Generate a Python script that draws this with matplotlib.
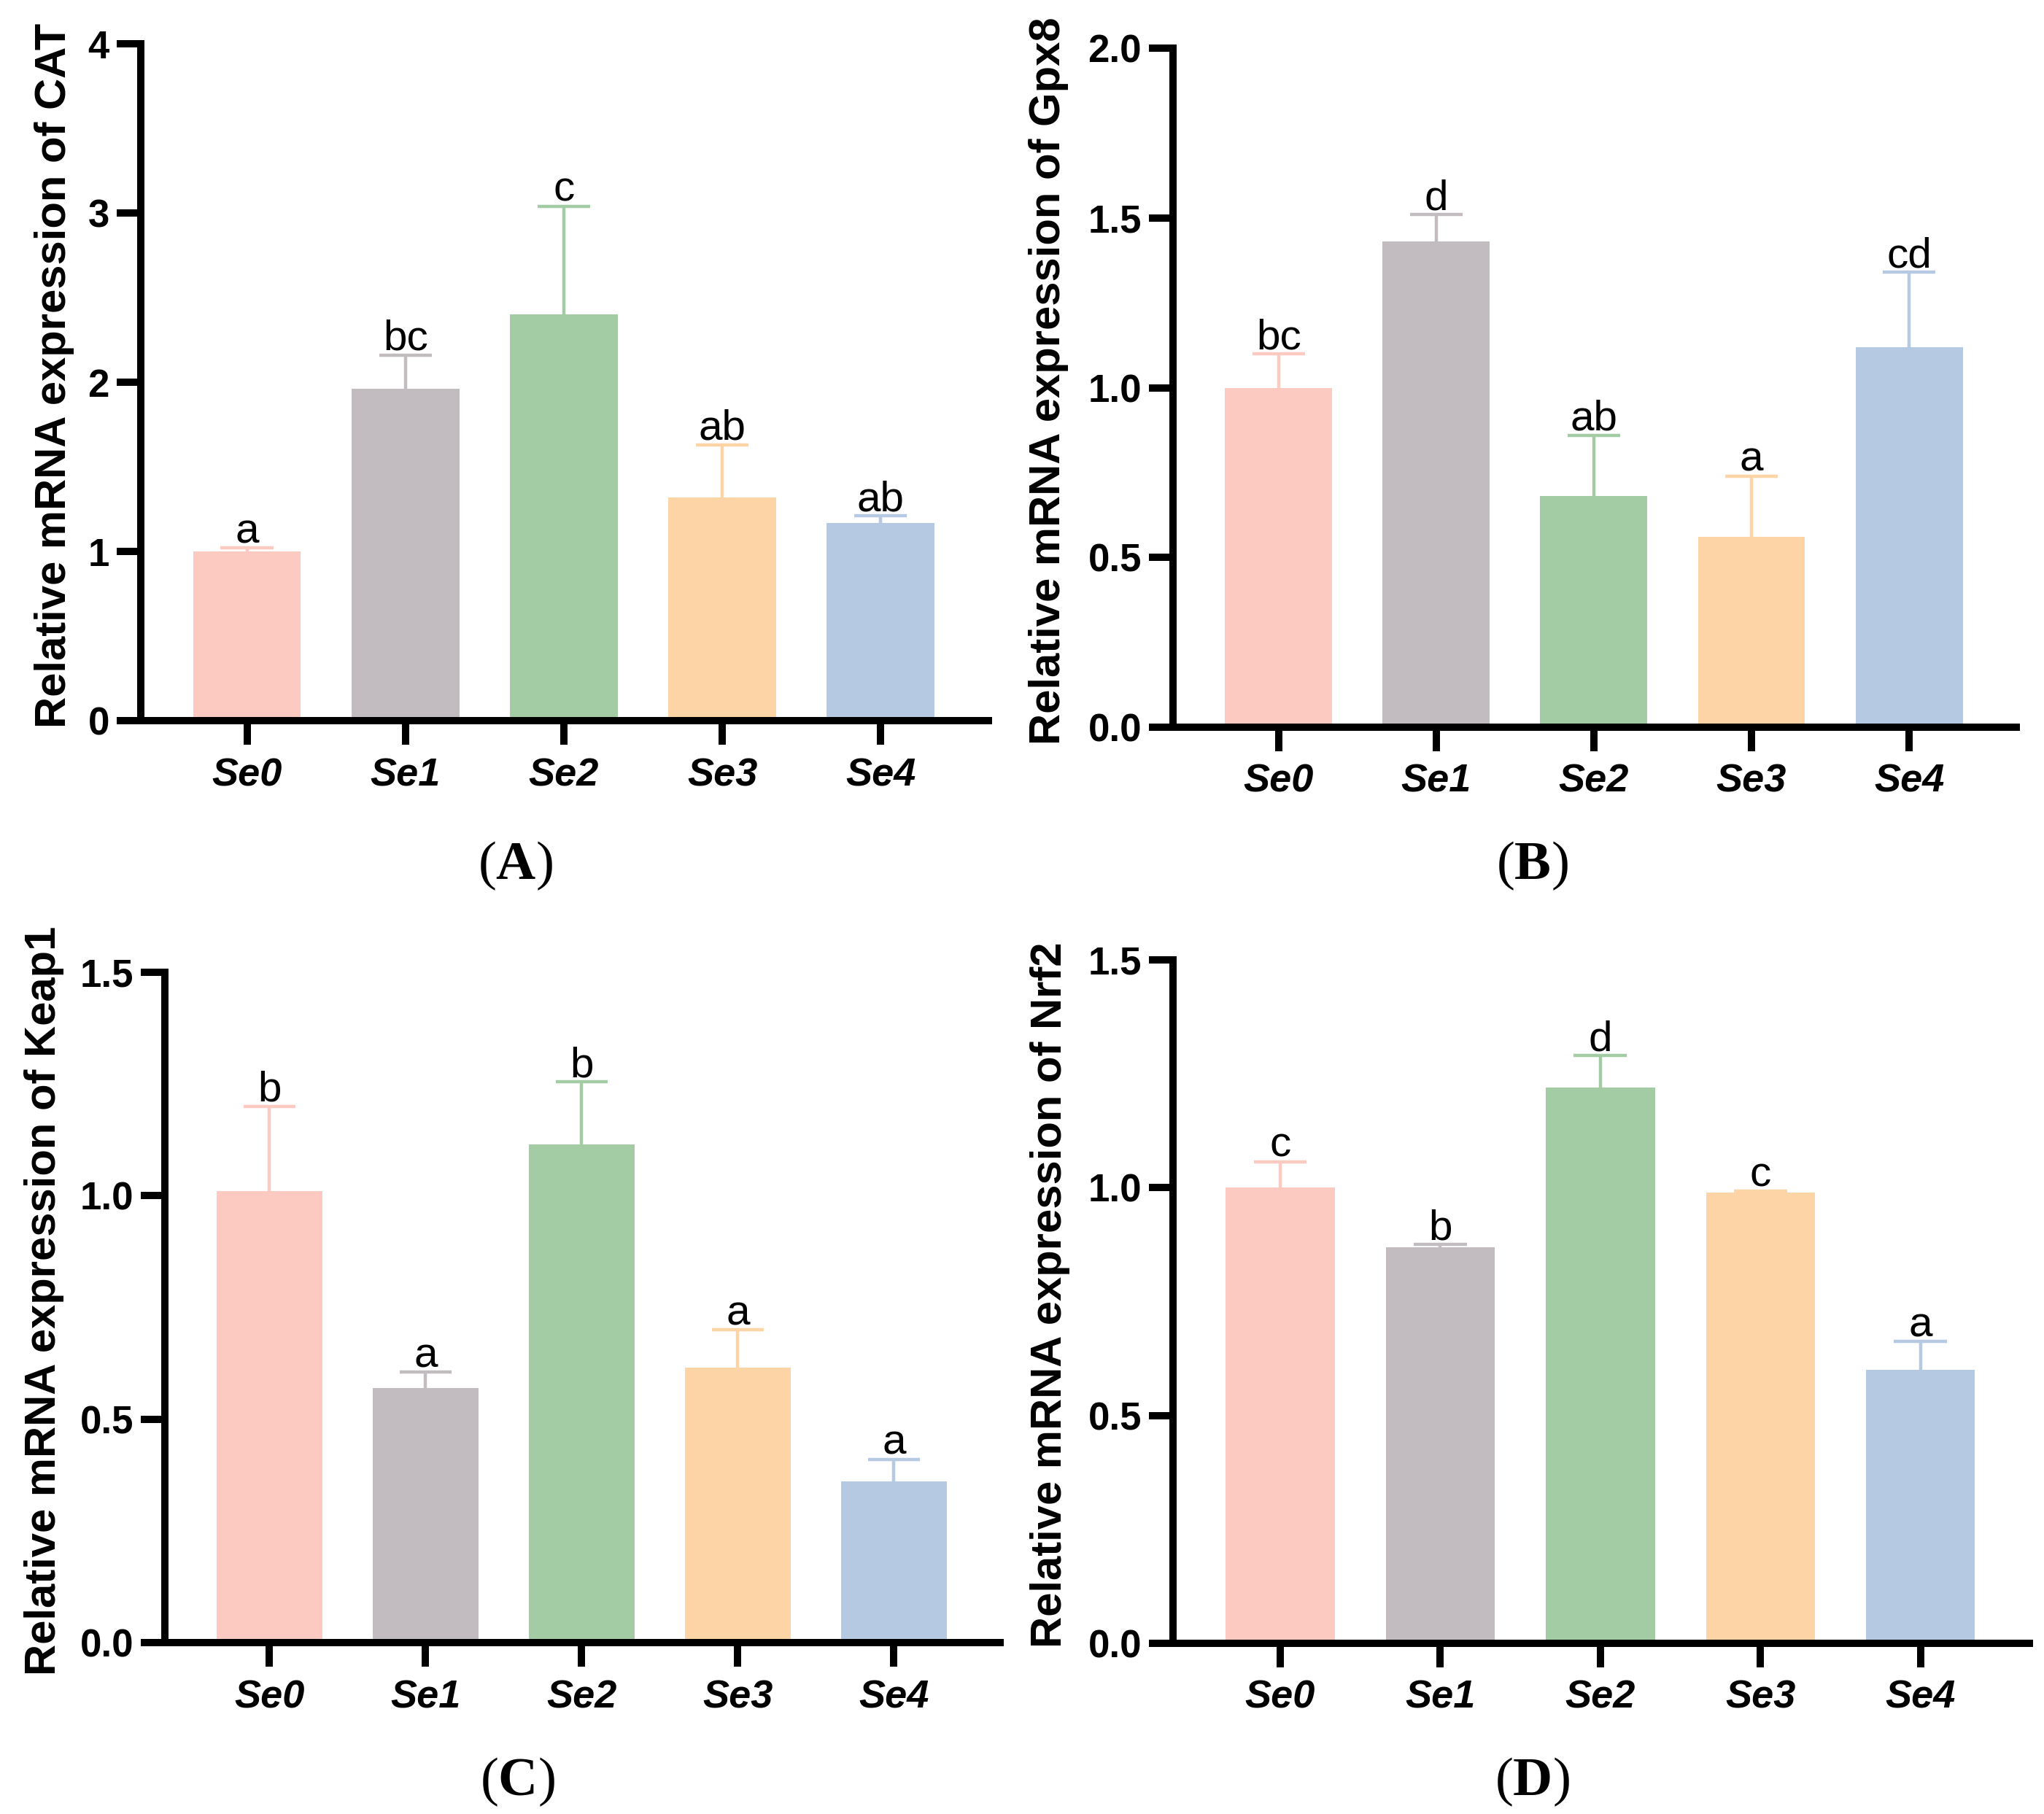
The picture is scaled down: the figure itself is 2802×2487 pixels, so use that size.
import matplotlib
matplotlib.use('Agg')
import numpy as np
import matplotlib.pyplot as plt

plt.rcParams['font.family'] = 'Liberation Sans'
plt.rcParams['mathtext.fontset'] = 'custom'
plt.rcParams['mathtext.rm'] = 'Liberation Serif'
plt.rcParams['mathtext.bf'] = 'Liberation Serif:bold'

# data
groups = ['Se0', 'Se1', 'Se2', 'Se3', 'Se4']
bar_colors = ['#FDCAC2', '#C2BCC0', '#A3CBA4', '#FDD4A6', '#B5C9E2']

cat_mean = [1.00, 1.96, 2.40, 1.32, 1.17]
cat_err = [0.02, 0.20, 0.64, 0.31, 0.04]
cat_letters = ['a', 'bc', 'c', 'ab', 'ab']

gpx8_mean = [1.00, 1.43, 0.68, 0.56, 1.12]
gpx8_err = [0.10, 0.08, 0.18, 0.18, 0.22]
gpx8_letters = ['bc', 'd', 'ab', 'a', 'cd']

keap1_mean = [1.01, 0.57, 1.115, 0.615, 0.36]
keap1_err = [0.19, 0.035, 0.14, 0.085, 0.05]
keap1_letters = ['b', 'a', 'b', 'a', 'a']

nrf2_mean = [1.00, 0.87, 1.22, 0.99, 0.60]
nrf2_err = [0.057, 0.005, 0.07, 0.002, 0.062]
nrf2_letters = ['c', 'b', 'd', 'c', 'a']

W, H = 2802, 2487
DPI = 100
fig = plt.figure(figsize=(W / DPI, H / DPI), dpi=DPI)


def px_axes(left, right, top, bottom):
    # pixel box -> figure fraction
    return [left / W, 1 - bottom / H, (right - left) / W, (bottom - top) / H]


panels = [
    # box (px), gene, means, errs, letters, yticks, ticklabels, label offset px, tag, tag pos
    ((193, 1355, 60, 988), 'CAT', cat_mean, cat_err, cat_letters,
     [0, 1, 2, 3, 4], ['0', '1', '2', '3', '4'], 91, 'A', (706, 1187)),
    ((1608, 2764, 66, 997), 'Gpx8', gpx8_mean, gpx8_err, gpx8_letters,
     [0, 0.5, 1.0, 1.5, 2.0], ['0.0', '0.5', '1.0', '1.5', '2.0'], 143, 'B', (2100, 1187)),
    ((226, 1371, 1333, 2252), 'Keap1', keap1_mean, keap1_err, keap1_letters,
     [0, 0.5, 1.0, 1.5], ['0.0', '0.5', '1.0', '1.5'], 138, 'C', (709, 2443)),
    ((1608, 2782, 1316, 2253), 'Nrf2', nrf2_mean, nrf2_err, nrf2_letters,
     [0, 0.5, 1.0, 1.5], ['0.0', '0.5', '1.0', '1.5'], 141, 'D', (2100, 2443)),
]

x = np.arange(len(groups))
cap_half = 0.166

for box, gene, mean, err, letters, yt, ytl, lab_off, tag, tag_pos in panels:
    ax = fig.add_axes(px_axes(*box))
    ax.bar(x, mean, width=0.68, color=bar_colors, linewidth=0, zorder=2)
    for i in range(len(groups)):
        top = mean[i] + err[i]
        # upper error bar only, same colour as the bar
        ax.vlines(x[i], mean[i], top, color=bar_colors[i], linewidth=3.2, zorder=1)
        ax.hlines(top, x[i] - cap_half, x[i] + cap_half, color=bar_colors[i],
                  linewidth=3.2, zorder=1)
        ax.annotate(letters[i], (x[i], top), xytext=(0, 5),
                    textcoords='offset points', ha='center', va='baseline',
                    fontsize=42)

    ax.set_xlim(-0.67, 4.68)
    ax.set_ylim(0, yt[-1])
    ax.set_yticks(yt)
    ax.set_yticklabels(ytl, fontsize=38, fontweight='bold')
    ax.set_xticks(x)
    ax.set_xticklabels(groups, fontsize=39, fontweight='bold', fontstyle='italic')

    for s in ['top', 'right']:
        ax.spines[s].set_visible(False)
    for s in ['left', 'bottom']:
        ax.spines[s].set_linewidth(7.2)
    ax.tick_params(axis='both', direction='out', length=24, width=7.2)
    ax.tick_params(axis='y', pad=7)
    ax.tick_params(axis='x', pad=12)

    ax.set_ylabel('Relative mRNA expression of ' + gene, fontsize=43,
                  fontweight='bold')
    ax_w = box[1] - box[0]
    ax.yaxis.set_label_coords(-lab_off / ax_w, 0.51)

    fig.text(tag_pos[0] / W, 1 - tag_pos[1] / H, r'($\mathbf{' + tag + '}$)',
             family='Liberation Serif', fontsize=54, ha='center', va='center')

fig.savefig('out.png', dpi=DPI)
